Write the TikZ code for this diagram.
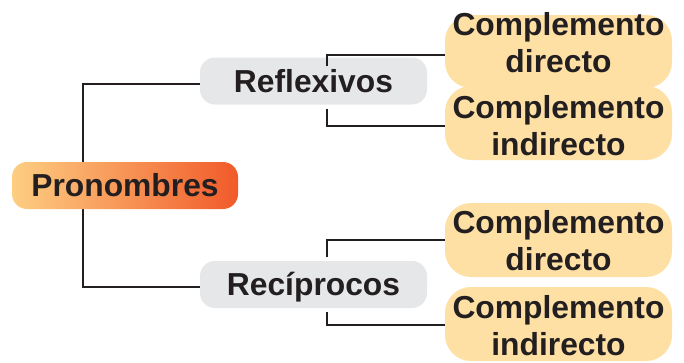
\documentclass[tikz,border=0pt]{standalone}
\usepackage{fontspec}
\setmainfont{Liberation Sans}
\usetikzlibrary{backgrounds}
\definecolor{linec}{HTML}{231F20}
\definecolor{txt}{HTML}{231F20}
\definecolor{greyc}{HTML}{E6E7E8}
\definecolor{peachc}{HTML}{FEE0A4}
\definecolor{gradl}{HTML}{FDCE82}
\definecolor{gradr}{HTML}{F15A2A}
\begin{document}
\begin{tikzpicture}[x=1pt,y=-1pt,
  conn/.style={draw=linec, line width=2pt},
  lbl/.style={font=\fontsize{31.8}{37}\selectfont\bfseries, text=txt},
  mainbox/.style={left color=gradl, right color=gradr, rounded corners=15pt, minimum width=226pt, minimum height=47pt, inner sep=0pt, text height=22pt, text depth=0pt, lbl},
  greybox/.style={fill=greyc, rounded corners=15pt, minimum width=227pt, minimum height=47pt, inner sep=0pt, text height=22pt, text depth=0pt, lbl},
  peachbox/.style={fill=peachc, rounded corners=26pt, minimum width=227pt, minimum height=74pt, inner sep=0pt},
  ctext/.style={lbl, align=center, inner sep=0pt}]
\useasboundingbox (0,0) rectangle (684,362);

% nodes
\node[mainbox] (pron) at (125,185.5) {Pronombres};
\node[greybox] (refl) at (313.5,81) {Reflexivos};
\node[greybox] (rec) at (313.5,284.5) {Recíprocos};

\node[peachbox, minimum height=73pt] (d1) at (558.5,51.5) {};
\node[peachbox] (i1) at (558.5,123) {};
\node[peachbox] (d2) at (558.5,240) {};
\node[peachbox] (i2) at (558.5,324) {};

\node[ctext] (d1t) at (558.5,42.5) {Complemento\\directo};
\node[ctext] (i1t) at (558.5,125.5) {Complemento\\indirecto};
\node[ctext] (d2t) at (558.5,241) {Complemento\\directo};
\node[ctext] (i2t) at (558.5,325.5) {Complemento\\indirecto};

% main connector behind the nodes
\coordinate (tp) at (83,84);
\coordinate (bp) at (83,287);
\begin{scope}[on background layer]
\draw[conn] (refl.west |- tp) -- (tp) -- (bp) -- (rec.west |- bp);
\end{scope}

% branch connectors
\coordinate (r1) at (327,55);
\coordinate (r2) at (327,126);
\coordinate (r3) at (327,240);
\coordinate (r4) at (327,325);
\draw[conn] (refl.north -| r1) ++(0,9) -- (r1) -- (r1 -| d1.west);
\draw[conn] (refl.south -| r2) ++(0,4) -- (r2) -- (r2 -| i1.west);
\draw[conn] (rec.north -| r3) ++(0,-4) -- (r3) -- (r3 -| d2.west);
\draw[conn] (rec.south -| r4) ++(0,4) -- (r4) -- (r4 -| i2.west);
\end{tikzpicture}
\end{document}
